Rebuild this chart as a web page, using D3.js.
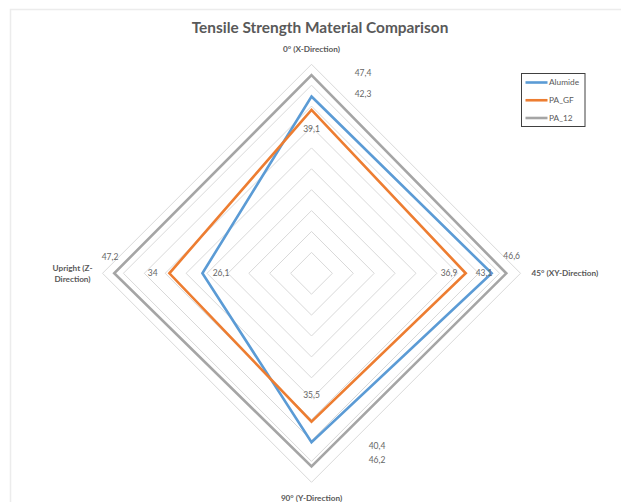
<!DOCTYPE html>
<html>
<head>
<meta charset="utf-8">
<script src="https://cdn.jsdelivr.net/npm/d3@7"></script>
<style>
  html, body { margin: 0; padding: 0; background: #ffffff; }
  svg { display: block; }
  text { font-family: Lato, "Open Sans", "DejaVu Sans", sans-serif; }
</style>
</head>
<body>
<svg id="chart" width="621" height="502"></svg>
<script>
// Radar axes, clockwise from the top
const axisLabels = ["0° (X-Direction)", "45° (XY-Direction)", "90° (Y-Direction)", "Upright (Z-Direction)"];
const seriesNames = ["Alumide", "PA_GF", "PA_12"];
const alumide = [42.3, 43.1, 40.4, 26.1];
const paGF = [39.1, 36.9, 35.5, 34];
const pa12 = [47.4, 46.6, 46.2, 47.2];
const ringTicks = [5, 10, 15, 20, 25, 30, 35, 40, 45, 50];
const seriesColors = ["#5B9BD5", "#ED7D31", "#A5A5A5"];

const seriesValues = [alumide, paGF, pa12];

// Data label offsets from each vertex (series × axis)
const labelOffsets = [
  [[51.5, -2], [-7.6, 0], [65.5, 4], [18.6, 0]],
  [[0, 19], [-16.7, 0], [0, -26.7], [-16.7, 0]],
  [[51.5, -2], [5.4, -17.6], [65.5, -6.4], [-4.2, -16.6]]
];

const svg = d3.select("#chart");
const cx = 311.5, cy = 273.3;
const r = d3.scaleLinear().domain([0, 50]).range([0, 209]);
const angle = d3.scaleLinear().domain([0, axisLabels.length]).range([0, 2 * Math.PI]);
const fmt = v => String(v).replace(".", ",");
const textColor = "#595959";

// Chart frame
svg.append("path")
  .attr("d", "M10.5,502 L10.5,9.5 L621,9.5")
  .attr("fill", "none")
  .attr("stroke", "#ececec")
  .attr("stroke-width", 1.5);

// Title
const title = svg.append("text")
  .attr("x", 320)
  .attr("y", 33)
  .attr("text-anchor", "middle")
  .attr("font-weight", "bold")
  .attr("font-size", 15)
  .attr("fill", textColor)
  .text("Tensile Strength Material Comparison");
(function fit(sel, target) {
  const w = sel.node().getComputedTextLength();
  const fs = parseFloat(sel.attr("font-size"));
  sel.attr("font-size", fs * target / w);
})(title, 257);

const g = svg.append("g").attr("transform", `translate(${cx},${cy})`);

// Gridline rings
const ringLine = d3.lineRadial()
  .angle((d, i) => angle(i))
  .radius(d => r(d))
  .curve(d3.curveLinearClosed);

g.selectAll("path.ring")
  .data(ringTicks)
  .join("path")
  .attr("class", "ring")
  .attr("d", t => ringLine(axisLabels.map(() => t)))
  .attr("fill", "none")
  .attr("stroke", "#d9d9d9")
  .attr("stroke-width", 1);

// Series outlines
const seriesLine = d3.lineRadial()
  .angle((d, i) => angle(i))
  .radius(d => r(d))
  .curve(d3.curveLinearClosed);

g.selectAll("path.series")
  .data(seriesValues)
  .join("path")
  .attr("class", "series")
  .attr("d", d => seriesLine(d))
  .attr("fill", "none")
  .attr("stroke", (d, i) => seriesColors[i])
  .attr("stroke-width", 2.6)
  .attr("stroke-linejoin", "miter");

// Data labels
const point = (v, i) => {
  const a = angle(i);
  return [Math.sin(a) * r(v), -Math.cos(a) * r(v)];
};
seriesValues.forEach((vals, s) => {
  g.selectAll(null)
    .data(vals)
    .join("text")
    .attr("x", (v, i) => point(v, i)[0] + labelOffsets[s][i][0])
    .attr("y", (v, i) => point(v, i)[1] + labelOffsets[s][i][1])
    .attr("dy", "0.35em")
    .attr("text-anchor", "middle")
    .attr("font-size", 8.5)
    .attr("fill", "#666666")
    .text(v => fmt(v));
});

// Category labels
const catPos = [
  { x: 0, y: -224, anchor: "middle", lines: ["0° (X-Direction)"] },
  { x: 220, y: 0, anchor: "start", lines: ["45° (XY-Direction)"] },
  { x: 0, y: 225, anchor: "middle", lines: ["90° (Y-Direction)"] },
  { x: -239, y: -5.5, anchor: "middle", lines: ["Upright (Z-", "Direction)"] }
];
catPos.forEach((p, i) => {
  const t = g.append("text")
    .attr("x", p.x)
    .attr("y", p.y)
    .attr("text-anchor", p.anchor)
    .attr("font-size", 8.2)
    .attr("font-weight", "bold")
    .attr("fill", textColor);
  p.lines.forEach((ln, k) => {
    t.append("tspan")
      .attr("x", p.x)
      .attr("dy", k === 0 ? "0.35em" : "1.4em")
      .text(ln);
  });
});

// Legend
const legend = svg.append("g").attr("transform", "translate(521.5,73.5)");
legend.append("rect")
  .attr("width", 63.5)
  .attr("height", 53)
  .attr("fill", "#ffffff")
  .attr("stroke", "#404040")
  .attr("stroke-width", 1);
const rowY = d3.scalePoint().domain(seriesNames).range([9, 44.5]);
seriesNames.forEach((name, i) => {
  legend.append("line")
    .attr("x1", 4).attr("x2", 26)
    .attr("y1", rowY(name)).attr("y2", rowY(name))
    .attr("stroke", seriesColors[i])
    .attr("stroke-width", 2.6);
  legend.append("text")
    .attr("x", 27.5)
    .attr("y", rowY(name))
    .attr("dy", "0.35em")
    .attr("font-size", 8.3)
    .attr("fill", textColor)
    .text(name);
});
</script>
</body>
</html>
